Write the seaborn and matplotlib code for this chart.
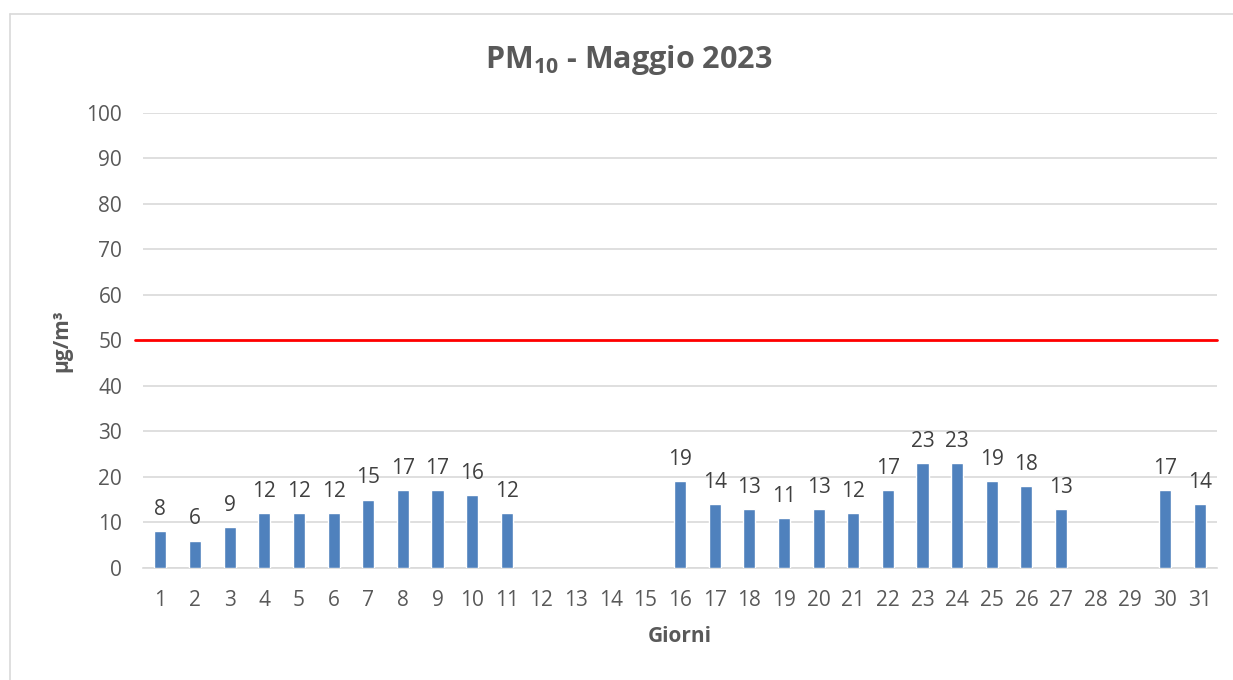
import matplotlib
matplotlib.use("Agg")
import matplotlib.pyplot as plt
from matplotlib.lines import Line2D
from matplotlib.ticker import FixedLocator
import numpy as np
import pandas as pd
import seaborn as sns

days = [str(d) for d in range(1, 32)]
pm10 = [8, 6, 9, 12, 12, 12, 15, 17, 17, 16, 12,
        np.nan, np.nan, np.nan, np.nan,
        19, 14, 13, 11, 13, 12, 17, 23, 23, 19, 18, 13,
        np.nan, np.nan, 17, 14]
limit = 50
yticks = list(range(0, 101, 10))

sns.set_theme(style="white")
plt.rcParams["font.family"] = ["Open Sans", "DejaVu Sans"]

grey = "#595959"
grid = "#D9D9D9"

df = pd.DataFrame({"Giorni": days, "PM10": pm10})

fig = plt.figure(figsize=(12.33, 6.8), dpi=100)
ax = fig.add_axes([0.116, 0.165, 0.871, 0.669])

sns.barplot(data=df.dropna(), x="Giorni", y="PM10", order=days,
            color="#4F81BD", saturation=1, width=0.35, ax=ax, zorder=3)
ax.bar_label(ax.containers[0], fmt="%g", padding=8, fontsize=15, color="#404040")

ax.axhline(limit, xmin=-0.0075, xmax=1, color="red", lw=2, zorder=4, clip_on=False)

ax.set_xlim(-0.5, len(days) - 0.5)
ax.set_ylim(0, 100)
ax.set_yticks(yticks)
ax.yaxis.grid(True, color=grid, lw=1.2, zorder=0)
ax.tick_params(axis="both", labelsize=15, labelcolor=grey, length=0)
ax.tick_params(axis="x", pad=16)
ax.tick_params(axis="y", pad=15)
ax.xaxis.set_minor_locator(FixedLocator(np.arange(-0.5, len(days), 1.0)))
ax.tick_params(axis="x", which="minor", length=6, color=grid, width=1.2, direction="out")

for s in ["top", "right", "left"]:
    ax.spines[s].set_visible(False)
ax.spines["bottom"].set_color(grid)
ax.spines["bottom"].set_linewidth(1.2)

ax.set_xlabel("Giorni", fontsize=15, fontweight="bold", color=grey, va="center")
ax.set_ylabel("µg/m³", fontsize=15, fontweight="bold", color=grey, va="center")
ax.xaxis.set_label_coords(0.5, -0.151)
ax.yaxis.set_label_coords(-0.0754, 0.5)

fig.text(0.51, 0.912, r"PM$_\mathregular{10}$ - Maggio 2023", ha="center", va="center",
         fontsize=22, fontweight="bold", color=grey)

# outer chart border (cut at right and bottom like the source)
fig.add_artist(Line2D([10 / 1233, 1.0], [1 - 14 / 680] * 2, color=grid, lw=1.2))
fig.add_artist(Line2D([10 / 1233] * 2, [0.0, 1 - 14 / 680], color=grid, lw=1.2))

fig.savefig("out.png", dpi=100)
